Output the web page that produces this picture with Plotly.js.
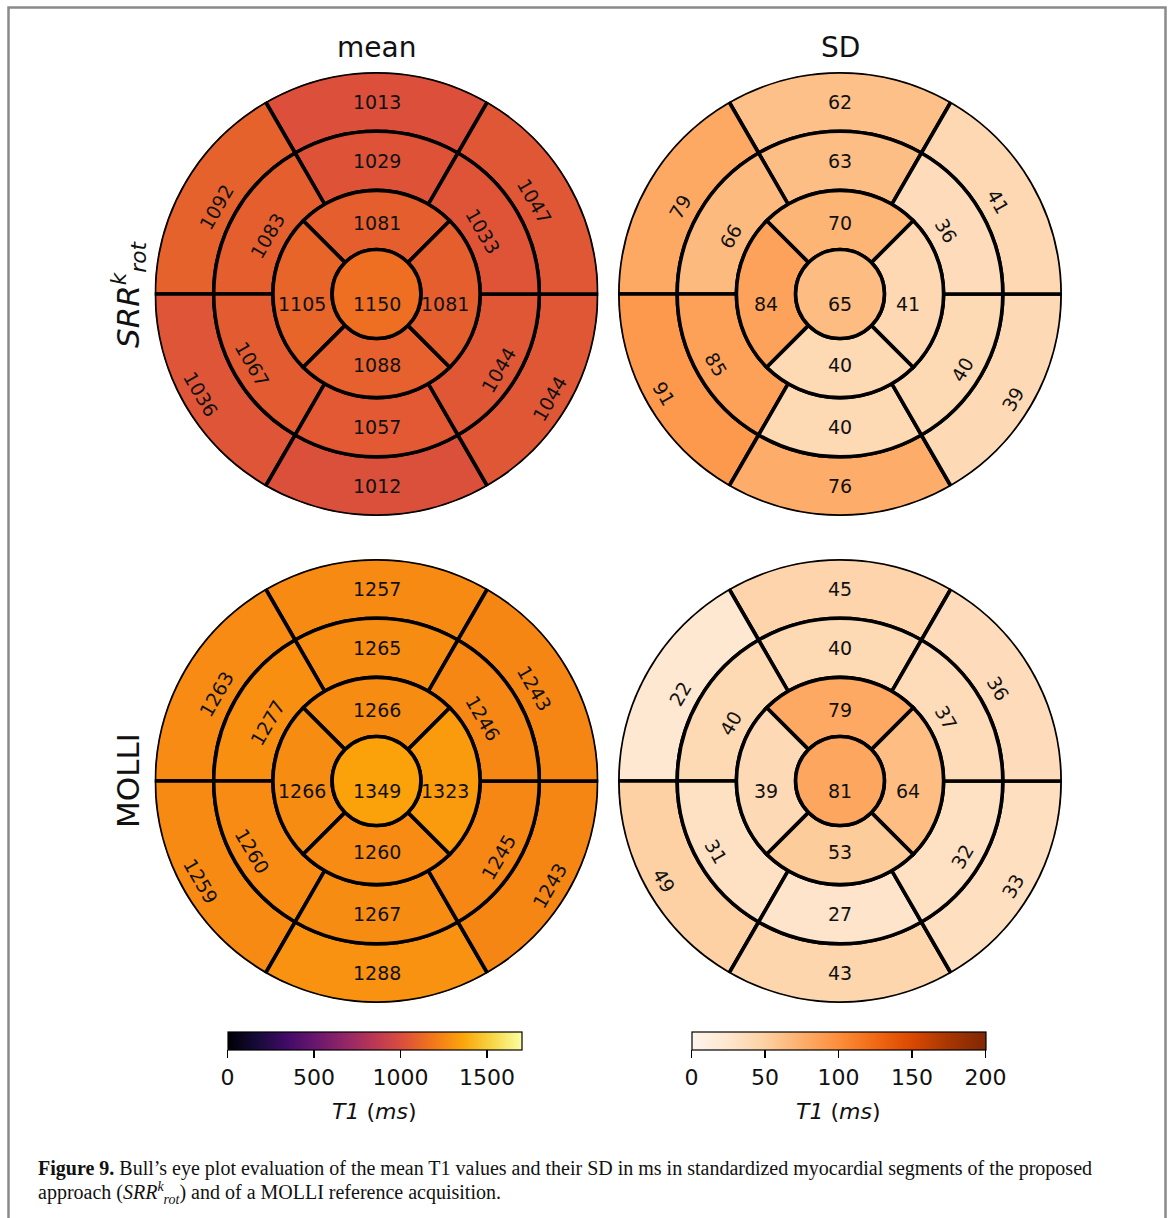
<!DOCTYPE html>
<html><head><meta charset="utf-8">
<script src="https://cdn.plot.ly/plotly-3.0.1.min.js"></script>
<style>html,body{margin:0;padding:0;background:#fff}</style>
</head><body><div id="chart" style="width:1171px;height:1218px"></div>
<script>
// ---- data (ring order: top, upper-left, lower-left, bottom, lower-right, upper-right; apical: top, left, bottom, right)
const rowLabels = ['<i>SRR</i><sup><i>k</i></sup><sub><i>rot</i></sub>', 'MOLLI'];
const colLabels = ['mean', 'SD'];

const srrMeanBasal  = [1013, 1092, 1036, 1012, 1044, 1047];
const srrMeanMid    = [1029, 1083, 1067, 1057, 1044, 1033];
const srrMeanApical = [1081, 1105, 1088, 1081];
const srrMeanApex   = [1150];

const srrSdBasal  = [62, 79, 91, 76, 39, 41];
const srrSdMid    = [63, 66, 85, 40, 40, 36];
const srrSdApical = [70, 84, 40, 41];
const srrSdApex   = [65];

const molliMeanBasal  = [1257, 1263, 1259, 1288, 1243, 1243];
const molliMeanMid    = [1265, 1277, 1260, 1267, 1245, 1246];
const molliMeanApical = [1266, 1266, 1260, 1323];
const molliMeanApex   = [1349];

const molliSdBasal  = [45, 22, 49, 43, 33, 36];
const molliSdMid    = [40, 40, 31, 27, 32, 37];
const molliSdApical = [79, 39, 53, 64];
const molliSdApex   = [81];

const meanTicks = [0, 500, 1000, 1500];
const sdTicks = [0, 50, 100, 150, 200];
const colorbarTitle = '<i>T1</i> (<i>ms</i>)';

// ---- geometry / style
const W = 1171, H = 1218;
const FONT = 'DejaVu Sans, sans-serif';
const ringTheta6 = [90, 150, 210, 270, 330, 30];
const ringTheta4 = [90, 180, 270, 0];
const radii = [0, 0.2, 0.2 + 0.8/3, 0.2 + 1.6/3, 1.0];
const PX = 222; // radius in px

const inferno = [[0,'#000004'],[0.1,'#160b39'],[0.2,'#420a68'],[0.3,'#6a176e'],[0.4,'#932667'],
  [0.5,'#bc3754'],[0.6,'#dd513a'],[0.7,'#f37819'],[0.8,'#fca50a'],[0.9,'#f6d746'],[1,'#fcffa4']];
const oranges = [[0,'#fff5eb'],[0.125,'#fee6ce'],[0.25,'#fdd0a2'],[0.375,'#fdae6b'],[0.5,'#fd8d3c'],
  [0.625,'#f16913'],[0.75,'#d94801'],[0.875,'#a63603'],[1,'#7f2704']];

const cols = [{cx: 376.5, cb: 374.5}, {cx: 840, cb: 838.5}];
const rowsY = [294, 781];

const panels = [
  {row:0, col:0, vals:[srrMeanBasal, srrMeanMid, srrMeanApical, srrMeanApex], cs:inferno, cmin:0, cmax:1700, scale:true, ticks:meanTicks},
  {row:0, col:1, vals:[srrSdBasal, srrSdMid, srrSdApical, srrSdApex], cs:oranges, cmin:0, cmax:200, scale:true, ticks:sdTicks},
  {row:1, col:0, vals:[molliMeanBasal, molliMeanMid, molliMeanApical, molliMeanApex], cs:inferno, cmin:0, cmax:1700, scale:false},
  {row:1, col:1, vals:[molliSdBasal, molliSdMid, molliSdApical, molliSdApex], cs:oranges, cmin:0, cmax:200, scale:false}
];

const data = [];
const layout = {
  width: W, height: H, margin: {l:0, r:0, t:0, b:0},
  paper_bgcolor: '#fff', plot_bgcolor: 'rgba(0,0,0,0)',
  showlegend: false, font: {family: FONT, color: '#000'},
  annotations: [], shapes: []
};

function rotFor(theta) {
  let r = theta - 90;
  while (r > 90) r -= 180;
  while (r <= -90) r += 180;
  return r;
}

panels.forEach((p, i) => {
  const n = i === 0 ? '' : String(i + 1);
  const cx = cols[p.col].cx, cy = rowsY[p.row];
  const dx = [(cx - PX) / W, (cx + PX) / W];
  const dy = [1 - (cy + PX) / H, 1 - (cy - PX) / H];

  const r = [], base = [], theta = [], width = [], color = [];
  const [basal, mid, apical, apex] = p.vals;
  basal.forEach((v, k) => { theta.push(ringTheta6[k]); width.push(60); base.push(radii[3]); r.push(radii[4]-radii[3]); color.push(v); });
  mid.forEach((v, k) => { theta.push(ringTheta6[k]); width.push(60); base.push(radii[2]); r.push(radii[3]-radii[2]); color.push(v); });
  apical.forEach((v, k) => { theta.push(ringTheta4[k]); width.push(90); base.push(radii[1]); r.push(radii[2]-radii[1]); color.push(v); });
  apex.forEach(v => { theta.push(0); width.push(360); base.push(0); r.push(radii[1]); color.push(v); });

  const marker = {
    color: color, colorscale: p.cs, cmin: p.cmin, cmax: p.cmax, showscale: !!p.scale,
    line: {color: '#000', width: 3.6}
  };
  if (p.scale) {
    marker.colorbar = {
      orientation: 'h', x: cols[p.col].cb / W, xanchor: 'center',
      y: 1 - 1032 / H, yanchor: 'top', len: 294, lenmode: 'pixels',
      thickness: 18, thicknessmode: 'pixels', xpad: 0, ypad: 0,
      outlinewidth: 1.2, outlinecolor: '#000',
      ticks: 'outside', ticklen: 8, tickwidth: 1.3, tickcolor: '#000',
      tickmode: 'array', tickvals: p.ticks, ticktext: p.ticks.map(String),
      tickfont: {family: FONT, size: 22, color: '#111'},
      title: {text: ''}
    };
    layout.annotations.push({xref: 'paper', yref: 'paper', x: cols[p.col].cb / W, y: 1 - 1111 / H,
      text: colorbarTitle, showarrow: false, xanchor: 'center', yanchor: 'middle',
      font: {family: FONT, size: 22, color: '#111'}});
  }
  data.push({
    type: 'barpolar', subplot: 'polar' + n, r: r, base: base, theta: theta, width: width,
    marker: marker, hoverinfo: 'skip'
  });

  layout['polar' + n] = {
    domain: {x: dx, y: dy}, bgcolor: 'rgba(0,0,0,0)',
    radialaxis: {range: [0, 1], visible: false, showgrid: false},
    angularaxis: {visible: false, showgrid: false, rotation: 0, direction: 'counterclockwise'}
  };
  layout['xaxis' + n] = {domain: dx, range: [-1, 1], visible: false, fixedrange: true, anchor: 'y' + n};
  layout['yaxis' + n] = {domain: dy, range: [-1, 1], visible: false, fixedrange: true, anchor: 'x' + n};

  // labels
  const lx = [], ly = [];
  function addLabel(v, x, y, ang) {
    lx.push(x); ly.push(y);
    layout.annotations.push({
      xref: 'x' + n, yref: 'y' + n, x: x, y: y, text: String(v), showarrow: false,
      textangle: ang, xanchor: 'center', yanchor: 'middle',
      font: {family: FONT, size: 19, color: '#111'}
    });
  }
  const offPlus = [6.5 / PX, -9 / PX];   // for text rotated +60 (ccw)
  const offMinus = [-9 / PX, -3.5 / PX]; // for text rotated -60 (cw)
  [[basal, (radii[3] + radii[4]) / 2], [mid, (radii[2] + radii[3]) / 2]].forEach(([vals, rr]) => {
    vals.forEach((v, k) => {
      const t = ringTheta6[k] * Math.PI / 180;
      const rot = rotFor(ringTheta6[k]);
      let x = rr * Math.cos(t), y = rr * Math.sin(t);
      if (rot > 1) { x += offPlus[0]; y += offPlus[1]; }
      else if (rot < -1) { x += offMinus[0]; y += offMinus[1]; }
      addLabel(v, x, y, -rot);
    });
  });
  const apR = 0.32, sideDrop = -10 / PX;
  addLabel(apical[0], 0, apR, 0);
  addLabel(apical[1], -0.335, sideDrop, 0);
  addLabel(apical[2], 0, -apR, 0);
  addLabel(apical[3], 0.308, sideDrop, 0);
  addLabel(apex[0], 0, sideDrop, 0);

  data.push({type: 'scatter', xaxis: 'x' + n, yaxis: 'y' + n, x: lx, y: ly, mode: 'markers',
    marker: {opacity: 0, size: 1}, hoverinfo: 'skip'});
});

// column & row titles
colLabels.forEach((t, c) => {
  layout.annotations.push({xref: 'paper', yref: 'paper', x: cols[c].cx / W, y: 1 - 47 / H, text: t,
    showarrow: false, xanchor: 'center', yanchor: 'middle', font: {family: FONT, size: 28, color: '#111'}});
});
rowLabels.forEach((t, rI) => {
  layout.annotations.push({xref: 'paper', yref: 'paper', x: 128 / W, y: 1 - rowsY[rI] / H, text: t,
    showarrow: false, textangle: -90, xanchor: 'center', yanchor: 'middle', font: {family: FONT, size: 31, color: '#111'}});
});

// caption
const CAP = 'Liberation Serif, serif';
layout.annotations.push({xref: 'paper', yref: 'paper', x: 36 / W, y: 1 - 1168 / H, xanchor: 'left', yanchor: 'middle',
  showarrow: false, align: 'left', font: {family: CAP, size: 20, color: '#111'},
  text: '<b>Figure 9.</b> Bull\u2019s eye plot evaluation of the mean T1 values and their SD in ms in standardized myocardial segments of the proposed'});
layout.annotations.push({xref: 'paper', yref: 'paper', x: 36 / W, y: 1 - 1193 / H, xanchor: 'left', yanchor: 'middle',
  showarrow: false, align: 'left', font: {family: CAP, size: 20, color: '#111'},
  text: 'approach (<i>SRR</i><sup><i>k</i></sup><sub><i>rot</i></sub>) and of a MOLLI reference acquisition.'});

// figure frame
layout.shapes.push({type: 'rect', xref: 'paper', yref: 'paper', x0: 8.5 / W, x1: 1165.5 / W, y0: -0.05, y1: 1 - 7.5 / H,
  line: {color: '#8a8a8a', width: 2.5}, fillcolor: 'rgba(0,0,0,0)'});

Plotly.newPlot('chart', data, layout, {displayModeBar: false, staticPlot: true});
</script>
</body></html>
